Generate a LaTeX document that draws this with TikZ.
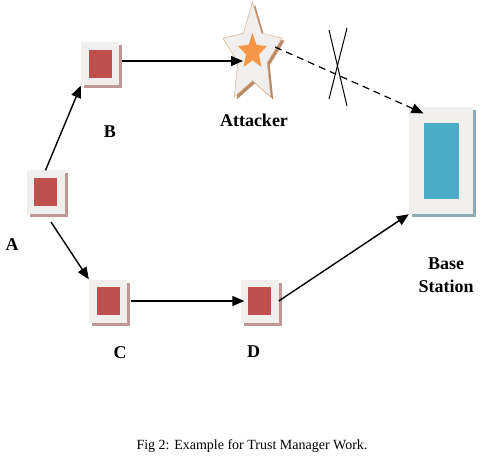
\documentclass[tikz,border=0pt]{standalone}
\usepackage{fontspec}
\setmainfont{Liberation Serif}
\usetikzlibrary{arrows.meta,shadows}
\definecolor{boxgray}{HTML}{F0EFEE}
\definecolor{coreRed}{HTML}{C0504D}
\definecolor{coreCyan}{HTML}{4BACC6}
\definecolor{starOrange}{HTML}{F79646}
\definecolor{shadowRed}{HTML}{BF9797}
\definecolor{shadowCyan}{HTML}{8FAAB2}
\definecolor{starEdge}{HTML}{D9B08C}
\definecolor{starShadow}{HTML}{B98A66}
% five-pointed star, stretched: fill style, centre x, centre y, x radius, y radius, inner ratio
\newcommand{\starfill}[6]{%
  \fill[#1] plot[samples at={0,...,9},variable=\k]
    ({#2+#4*(1-(1-#6)*mod(\k,2))*cos(-90+36*\k)},
     {#3+#5*(1-(1-#6)*mod(\k,2))*sin(-90+36*\k)}) -- cycle;
}
\tikzset{
  sensor/.style={fill=boxgray,minimum width=38pt,minimum height=43pt,inner sep=0pt,
    drop shadow={shadow xshift=3pt,shadow yshift=-3pt,fill=shadowRed,opacity=1}},
  core/.style={fill=coreRed,minimum width=23pt,minimum height=28pt,inner sep=0pt},
  station/.style={fill=boxgray,minimum width=64pt,minimum height=107pt,inner sep=0pt,
    drop shadow={shadow xshift=3pt,shadow yshift=-3pt,fill=shadowCyan,opacity=1}},
  stationcore/.style={fill=coreCyan,minimum width=35pt,minimum height=76pt,inner sep=0pt},
  lbl/.style={font=\bfseries\fontsize{18}{23}\selectfont,inner sep=0pt,align=center},
  flow/.style={line width=1.4pt,-{Triangle[length=12pt,width=10pt]}},
}
\begin{document}
\begin{tikzpicture}[x=1pt,y=-1pt]
\useasboundingbox (0,0) rectangle (494,462);

% sensor nodes
\node[sensor] (A) at (45.5,192) {};
\node[core] (A-in) at (A) {};
\node[sensor] (B) at (100,64) {};
\node[core] (B-in) at (B) {};
\node[sensor] (C) at (108,301) {};
\node[core] (C-in) at (C) {};
\node[sensor] (D) at (259.5,301) {};
\node[core] (D-in) at (D) {};

% base station
\node[station] (BS) at (441,160.5) {};
\node[stationcore] (BS-in) at (441.5,161) {};

% attacker star
\starfill{starShadow}{255}{57}{31}{52.5}{0.5}
\starfill{boxgray,draw=starEdge,line width=0.5pt}{252.5}{54.5}{31}{52.5}{0.5}
\starfill{starOrange}{252.5}{51.8}{15.2}{18.8}{0.45}
\coordinate (att-w) at (243,61);
\coordinate (att-e) at (275,47);

% labels
\node[lbl] (A-lbl) at (12,245) {A};
\node[lbl] (B-lbl) at (110,132) {B};
\node[lbl] (C-lbl) at (120,353) {C};
\node[lbl] (D-lbl) at (253.5,352) {D};
\node[lbl] (att-lbl) at (254,120) {Attacker};
\node[lbl] (BS-lbl) at (446,275) {Base\\Station};

% connectors
\draw[flow] (A.north) -- (B.south west);
\draw[flow,shorten <=10pt] (A.south) -- (C.north west);
\draw[flow,shorten <=3pt] (B.east |- att-w) -- (att-w);
\draw[flow,shorten <=4pt,shorten >=-4pt] (C.east) -- (D.west);
\draw[flow] (D.east) -- (BS.south west);
\draw[flow,dash pattern=on 7pt off 5pt,line width=1.2pt,shorten >=-16pt] (att-e) -- (BS.north west);

% blocked link
\draw[line width=1pt] (329,30) -- (347,106);
\draw[line width=1pt] (347,28) -- (329,99);

\node[font=\fontsize{14}{16}\selectfont] (caption) at (252,446) {Fig 2: Example for Trust Manager Work.};
\end{tikzpicture}
\end{document}
